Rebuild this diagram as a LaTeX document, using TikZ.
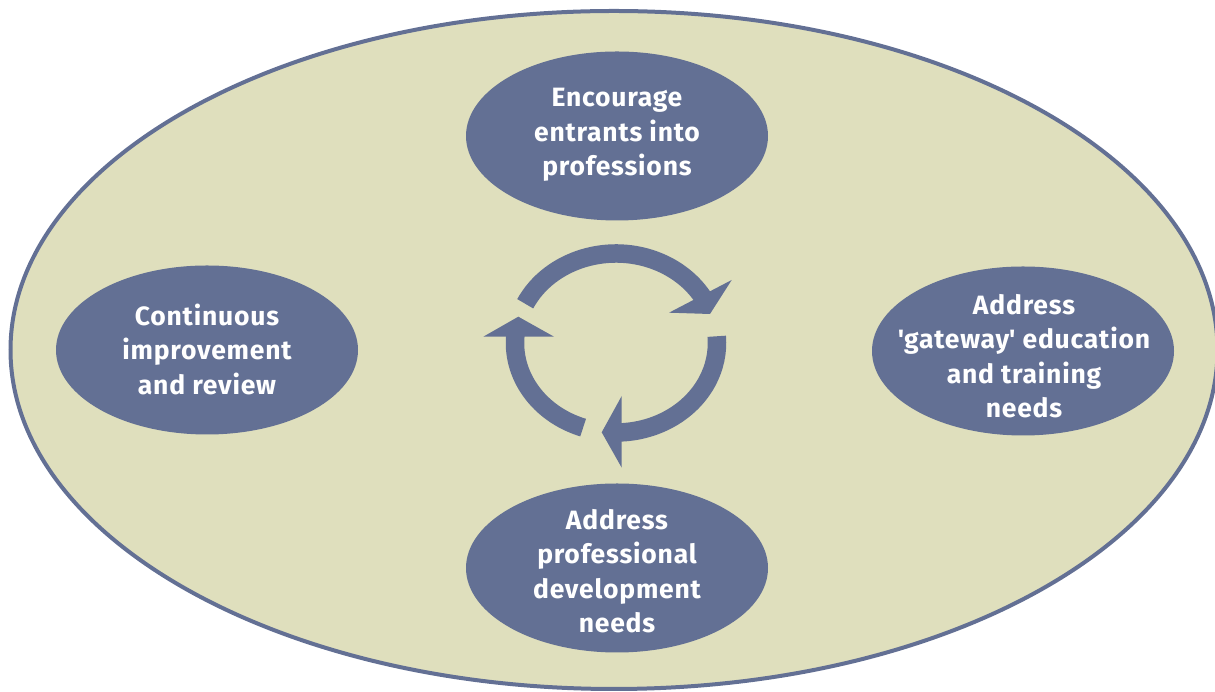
\documentclass[tikz,border=0pt]{standalone}
\usepackage{fontspec}
\setmainfont{Fira Sans}
\newfontfamily\lblfont{Fira Sans}[LetterSpace=3]
\usetikzlibrary{calc,shapes.geometric}
\definecolor{bgfill}{HTML}{DFDFBD}
\definecolor{slate}{HTML}{637094}
\begin{document}
\begin{tikzpicture}[x=1pt,y=1pt,
  stage/.style={ellipse,fill=slate,inner sep=0pt,minimum width=302pt,minimum height=169pt},
  lbl/.style={text=white,align=center,font=\lblfont\bfseries\fontsize{26.5}{34.5}\selectfont},
  shaft/.style={draw=slate,line width=18.5pt},
  head/.style={fill=slate}]
\useasboundingbox (0,0) rectangle (1215,692);
% outer ellipse
\node[ellipse,draw=slate,fill=bgfill,line width=4pt,inner sep=0pt,minimum width=1207pt,minimum height=678pt] (outer) at (614,342) {};
% stage ellipses
\node[stage] (topE) at (617,556) {};
\node[stage] (leftE) at (207,342) {};
\node[stage] (rightE) at (1023,341) {};
\node[stage] (bottomE) at (617,124) {};
\node[lbl] (top) at (617,557) {Encourage\\entrants into\\professions};
\node[lbl] (left) at (207,343) {Continuous\\improvement\\and review};
\node[lbl] (right) at (1024,336) {Address\\\textquotesingle gateway\textquotesingle{} education\\and training\\needs};
\node[lbl] (bottom) at (617,121) {Address\\professional\\development\\needs};
% cycle arrows
\coordinate (c) at (616,349);
\draw[shaft] ($(c)+(154:101 and 89.5)$) arc[start angle=154, end angle=29, x radius=101, y radius=89.5];
\fill[head] (669,379.3) -- (731.7,412) -- (710,378) -- cycle;
\draw[shaft] ($(c)+(4.3:101 and 89.5)$) arc[start angle=4.3, end angle=-89, x radius=101, y radius=89.5];
\fill[head] (621.7,296) -- (621.7,224.3) -- (601.7,259.7) -- cycle;
\draw[shaft] ($(c)+(-109:101 and 89.5)$) arc[start angle=-109, end angle=-186, x radius=101, y radius=89.5];
\fill[head] (483.3,355.3) -- (554,355.3) -- (518.3,375.3) -- cycle;
\end{tikzpicture}
\end{document}
